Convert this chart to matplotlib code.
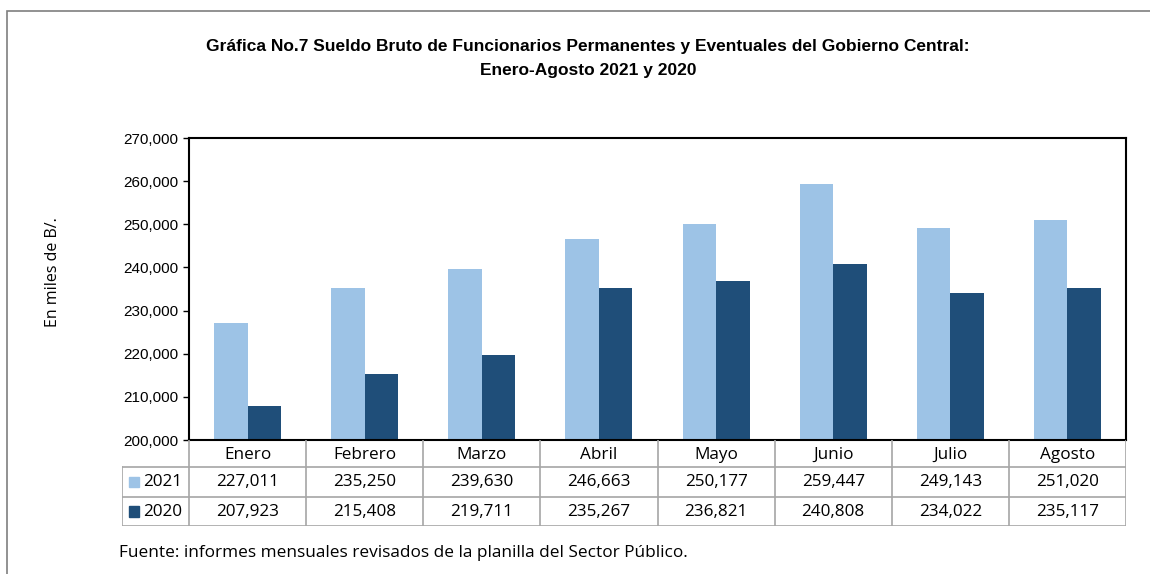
import matplotlib
matplotlib.use('Agg')
from matplotlib import pyplot as plt
from matplotlib.patches import Rectangle

meses = ['Enero', 'Febrero', 'Marzo', 'Abril', 'Mayo', 'Junio', 'Julio', 'Agosto']
anios = ['2021', '2020']
v2021 = [227011, 235250, 239630, 246663, 250177, 259447, 249143, 251020]
v2020 = [207923, 215408, 219711, 235267, 236821, 240808, 234022, 235117]
colores = ['#9DC3E6', '#1F4E79']

W, H = 1150, 574
fig = plt.figure(figsize=(W/100, H/100), dpi=100)

# marco exterior (solo se ve arriba e izquierda)
fig.patches.append(Rectangle((7/W, -0.1), 1.2, 1 - 11/H + 0.1, transform=fig.transFigure,
                             fill=False, edgecolor='#7F7F7F', lw=1.2))

def caja(x0, y0, x1, y1):
    return [x0/W, 1 - y1/H, (x1 - x0)/W, (y1 - y0)/H]

ax = fig.add_axes(caja(189, 138, 1126, 440))
x = list(range(len(meses)))
ancho = 0.286
ax.bar([i - ancho/2 for i in x], v2021, ancho, color=colores[0])
ax.bar([i + ancho/2 for i in x], v2020, ancho, color=colores[1])
ax.set_xlim(-0.5, 7.5)
ax.set_ylim(200000, 270000)
ax.set_yticks(range(200000, 270001, 10000))
ax.set_yticklabels([f'{v:,}' for v in range(200000, 270001, 10000)],
                   family='Liberation Sans', fontsize=11)
ax.set_xticks([])
ax.tick_params(axis='y', length=4, width=1, direction='out', pad=4)
for s in ax.spines.values():
    s.set_linewidth(1.5)
    s.set_color('black')

fig.text(53/W, 1 - 272/H, 'En miles de B/.', rotation=90, ha='center', va='center',
         family='Open Sans', fontsize=11.5)

# tabla de datos
tb = fig.add_axes(caja(122, 440, 1126, 526))
leg = 67/117.1
tb.set_xlim(-0.5 - leg, 7.5)
tb.set_ylim(3, 0)
tb.axis('off')
gris = '#A6A6A6'
filas = [0, 0.94, 1.99, 3]
for i in range(9):
    tb.plot([i - 0.5, i - 0.5], [0, 3], color=gris, lw=1.2)
tb.plot([-0.5 - leg, -0.5 - leg], [filas[1], 3], color=gris, lw=1.2)
for f in filas[1:]:
    tb.plot([-0.5 - leg, 7.5], [f, f], color=gris, lw=1.2)
for i, m in enumerate(meses):
    tb.text(i, (filas[0] + filas[1])/2 + 0.05, m, ha='center', va='center',
            family='Open Sans', fontsize=12.3)
    tb.text(i, (filas[1] + filas[2])/2, f'{v2021[i]:,}', ha='center', va='center',
            family='Open Sans', fontsize=12.3)
    tb.text(i, (filas[2] + filas[3])/2, f'{v2020[i]:,}', ha='center', va='center',
            family='Open Sans', fontsize=12.3)
for k, (anio, c) in enumerate(zip(anios, colores)):
    yc = (filas[k + 1] + filas[k + 2])/2
    tb.add_patch(Rectangle((-0.5 - leg + 0.06, yc - 0.18), 0.085, 0.36, color=c))
    tb.text(-0.5 - leg + 0.18, yc, anio, ha='left', va='center',
            family='Open Sans', fontsize=12.3)

fig.text(588/W, 1 - 47/H, 'Gráfica No.7 Sueldo Bruto de Funcionarios Permanentes y Eventuales del Gobierno Central:',
         ha='center', va='center', family='Liberation Sans', weight='bold', fontsize=12.5)
fig.text(588/W, 1 - 70/H, 'Enero-Agosto 2021 y 2020',
         ha='center', va='center', family='Liberation Sans', weight='bold', fontsize=12.5)
fig.text(119/W, 1 - 553/H, 'Fuente: informes mensuales revisados de la planilla del Sector Público.',
         ha='left', va='center', family='Open Sans', fontsize=12.4)

fig.savefig('out.png', dpi=100)
